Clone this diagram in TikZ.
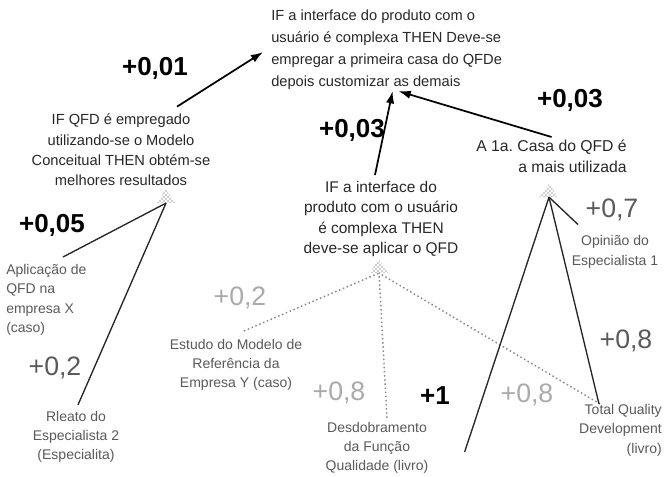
\documentclass[tikz,border=0pt]{standalone}
\usepackage{fontspec}
\setmainfont{Liberation Sans}
\usetikzlibrary{arrows.meta,shapes.geometric,patterns}
\definecolor{inkgray}{RGB}{40,40,40}
\definecolor{dotgray}{RGB}{90,90,90}
\definecolor{faintgray}{RGB}{170,170,170}
\tikzset{
  rule/.style={inner sep=0pt,align=center,text=inkgray,font=\fontsize{11}{15.3}\selectfont},
  fact/.style={inner sep=0pt,align=center,text=dotgray,font=\fontsize{10.5}{14.5}\selectfont},
  weight/.style={inner sep=0pt,font=\fontsize{19.5}{20}\selectfont\bfseries},
  soft/.style={inner sep=0pt,text=dotgray,font=\fontsize{20}{20}\selectfont},
  faint/.style={inner sep=0pt,text=faintgray,font=\fontsize{20}{20}\selectfont},
  flow/.style={-{Latex[length=3.2mm,width=2.2mm]},line width=1.3pt},
  link/.style={black!85,line width=1pt},
  dotlink/.style={faintgray!80!black,line width=1.1pt,dotted},
  hat/.style={isosceles triangle,shape border rotate=90,isosceles triangle apex angle=70,
              minimum height=10pt,inner sep=0pt,pattern=crosshatch dots,pattern color=black!80},
}
\begin{document}
\begin{tikzpicture}[x=0.75pt,y=-0.75pt]
  \path[use as bounding box,fill=white] (0,0) rectangle (665,477);

  % rules
  \node[rule,align=left,anchor=north west,font=\fontsize{11}{16.5}\selectfont] (top) at (271,10)
    {IF a interface do produto com o\\usuário é complexa THEN Deve-se\\
     empregar a primeira casa do QFDe\\depois customizar as demais};
  \node[rule] (ifqfd) at (121,150)
    {IF QFD é empregado\\utilizando-se o Modelo\\Conceitual THEN obtém-se\\melhores resultados};
  \node[rule,font=\fontsize{11.6}{15.3}\selectfont] (ifint) at (381,219)
    {IF a interface do\\produto com o usuário\\é complexa THEN\\deve-se aplicar o QFD};
  \node[rule,align=right,anchor=north east,font=\fontsize{11.8}{15.3}\selectfont] (casa) at (627,140)
    {A 1a.\ Casa do QFD é\\a mais utilizada};

  % evidence
  \node[fact,align=left,anchor=north west] (aplic) at (6,264)
    {Aplicação de\\QFD na\\empresa X\\(caso)};
  \node[fact] (relato) at (76,437) {Rleato do\\Especialista 2\\(Especialita)};
  \node[fact] (estudo) at (236,365) {Estudo do Modelo de\\Referência da\\Empresa Y (caso)};
  \node[fact] (desd) at (377,448) {Desdobramento\\da Função\\Qualidade (livro)};
  \node[fact,align=right,anchor=north east] (tqd) at (662,404) {Total Quality\\Development\\(livro)};
  \node[fact] (opin) at (615,252) {Opinião do\\Especialista 1};

  % hatched heads
  \node[hat] (hq) at (166,198) {};
  \node[hat] (hc) at (379,268) {};
  \node[hat] (ha) at (549,192) {};

  % weights
  \node[weight] (w001) at (155,68) {+0,01};
  \node[weight] (w003a) at (352,130) {+0,03};
  \node[weight] (w003b) at (570,100) {+0,03};
  \node[weight] (w005) at (52,225) {+0,05};
  \node[weight] (w1) at (435,396) {+1};
  \node[soft] (w02a) at (55,368) {+0,2};
  \node[soft] (w07) at (612,210) {+0,7};
  \node[soft] (w08c) at (626,341) {+0,8};
  \node[faint] (w02b) at (240,298) {+0,2};
  \node[faint] (w08a) at (339,393) {+0,8};
  \node[faint] (w08b) at (527,395) {+0,8};

  % arrows between rules
  \draw[flow] ([shift={(56,-7)}]ifqfd.north) -- ([shift={(-8,2)}]top.west);
  \draw[flow] ([shift={(-6,-6)}]ifint.north) -- ([shift={(6,1)}]top.south);
  \draw[flow] ([shift={(0,-3)}]casa.north) -- ([shift={(12,1)}]top.south);

  % evidence links
  \draw[link] ([shift={(57,-7)}]aplic.north west) -- (hq.south);
  \draw[link] ([shift={(2,-6)}]relato.north) -- (hq.south);
  \draw[dotlink] ([shift={(8,-8)}]estudo.north) -- (hc.south);
  \draw[dotlink] ([shift={(10,-4)}]desd.north) -- (hc.south);
  \draw[dotlink] ([shift={(-62,0)}]tqd.north east) -- (hc.south);
  \draw[link] ([shift={(36,4)}]desd.east) -- (ha.south);
  \draw[link] ([shift={(-63,0)}]tqd.north east) -- (ha.south);
  \draw[link] ([shift={(-37,-11)}]opin.north) -- (ha.south);
\end{tikzpicture}
\end{document}
